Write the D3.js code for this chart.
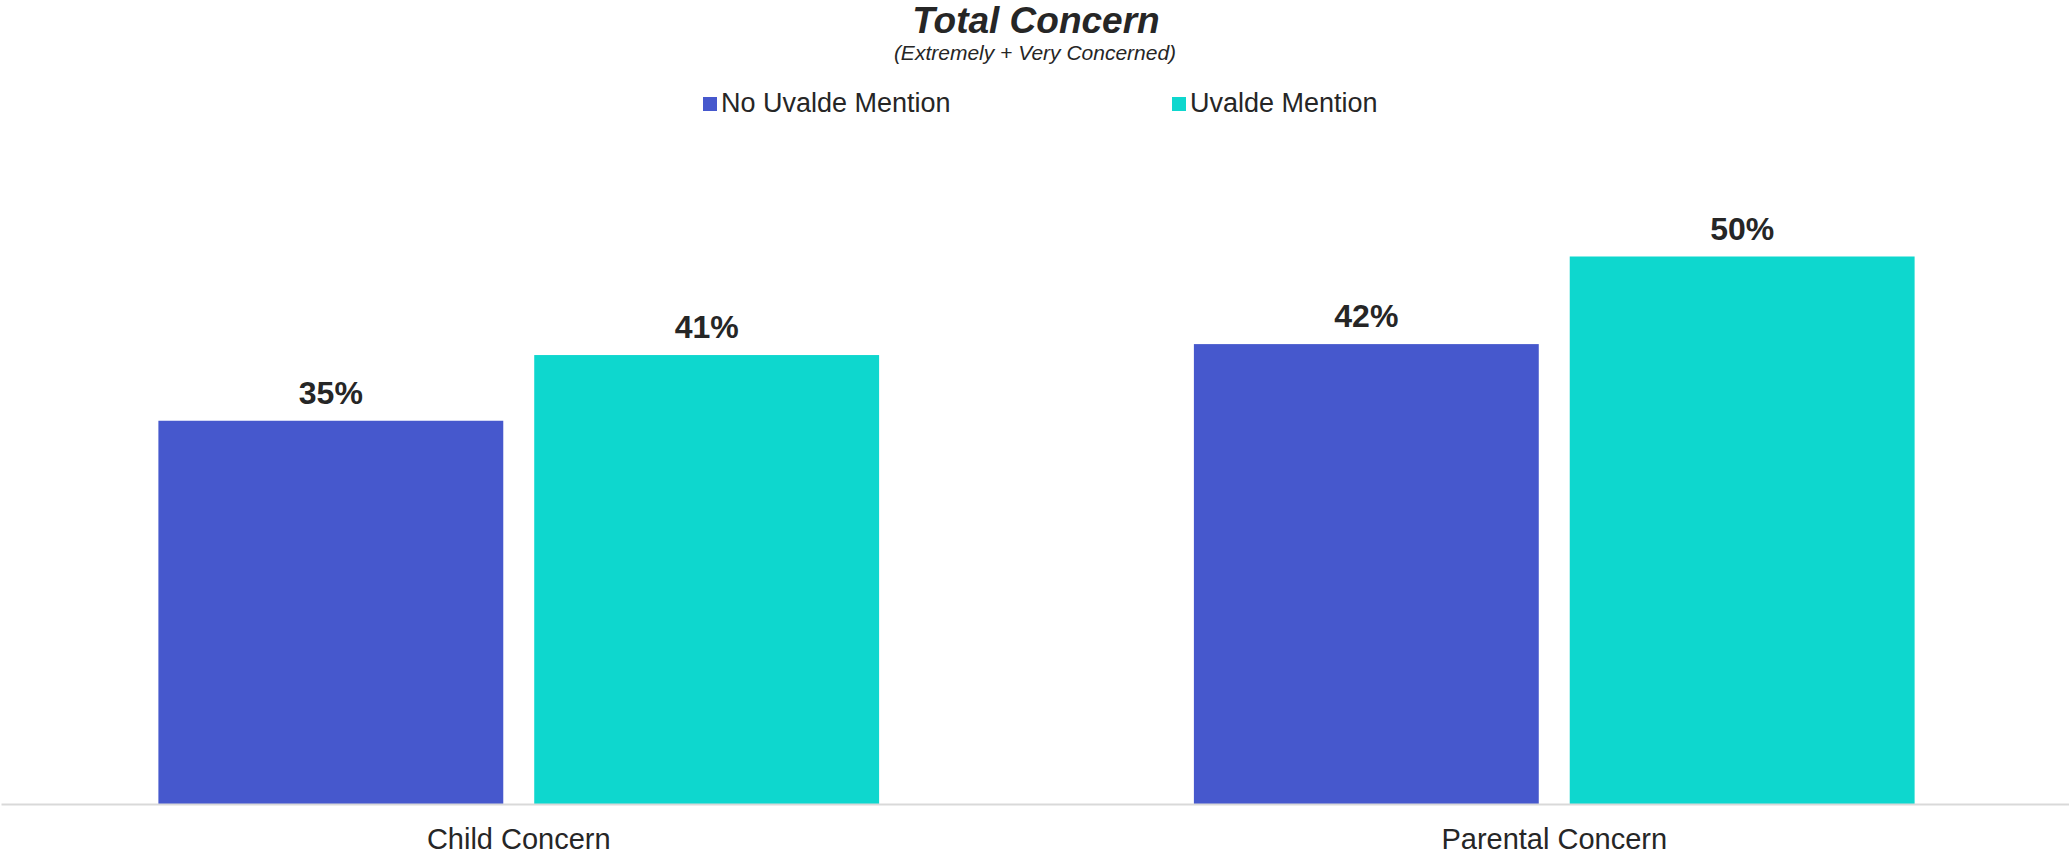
<!DOCTYPE html>
<html>
<head>
<meta charset="utf-8">
<script src="https://cdn.jsdelivr.net/npm/d3@7"></script>
<style>
  html, body { margin: 0; padding: 0; background: #ffffff; }
  svg { display: block; }
  text { font-family: "Liberation Sans", Arial, Helvetica, sans-serif; }
</style>
</head>
<body>
<svg id="chart" width="2069" height="855"></svg>
<script>
// ---- data ----
const categories = ["Child Concern", "Parental Concern"];
const seriesNames = ["No Uvalde Mention", "Uvalde Mention"];
const noUvalde = [0.35, 0.42];
const uvalde = [0.41, 0.50];
const seriesColors = ["#4658CD", "#0ED7CE"];
const titleText = "Total Concern";
const subtitleText = "(Extremely + Very Concerned)";

const rows = categories.map((c, i) => ({
  category: c,
  values: [
    { series: seriesNames[0], value: noUvalde[i] },
    { series: seriesNames[1], value: uvalde[i] }
  ]
}));

const W = 2069, H = 855;
const svg = d3.select("#chart");
const baseY = 804, topY = 147;

const x0 = d3.scaleBand().domain(categories).range([1, 2072])
  .paddingInner(0.304).paddingOuter(0.152);
const x1 = d3.scaleBand().domain(seriesNames).range([0, x0.bandwidth()])
  .paddingInner(0.0824).paddingOuter(0);
const y = d3.scaleLinear().domain([0, 0.6]).range([baseY, topY]);
const color = d3.scaleOrdinal().domain(seriesNames).range(seriesColors);
const fmt = d3.format(".0%");

// bars
const groups = svg.append("g").selectAll("g").data(rows).join("g")
  .attr("transform", d => `translate(${x0(d.category)},0)`);
groups.selectAll("rect").data(d => d.values).join("rect")
  .attr("x", d => x1(d.series))
  .attr("y", d => y(d.value))
  .attr("width", x1.bandwidth())
  .attr("height", d => baseY - y(d.value))
  .attr("fill", d => color(d.series));
groups.selectAll("text.lbl").data(d => d.values).join("text")
  .attr("class", "lbl")
  .attr("x", d => x1(d.series) + x1.bandwidth() / 2)
  .attr("y", d => y(d.value) - 17)
  .attr("text-anchor", "middle")
  .attr("font-size", 32)
  .attr("font-weight", "bold")
  .attr("fill", "#262626")
  .text(d => fmt(d.value));

// x axis
const xAxis = svg.append("g").attr("transform", `translate(0,${baseY})`)
  .call(d3.axisBottom(x0).tickSize(0).tickPadding(24));
xAxis.select(".domain").attr("stroke", "#D9D9D9").attr("stroke-width", 2);
xAxis.selectAll("text")
  .attr("font-size", 29)
  .attr("fill", "#262626")
  .style("font-family", "'Liberation Sans', Arial, sans-serif");

// title
svg.append("text").attr("x", 1036).attr("y", 33)
  .attr("text-anchor", "middle").attr("font-size", 37)
  .attr("font-weight", "bold").attr("font-style", "italic")
  .attr("fill", "#262626").text(titleText);
svg.append("text").attr("x", 1035).attr("y", 60)
  .attr("text-anchor", "middle").attr("font-size", 21)
  .attr("font-style", "italic")
  .attr("fill", "#262626").text(subtitleText);

// legend
const legendX = [703, 1172];
const leg = svg.append("g").selectAll("g").data(seriesNames).join("g")
  .attr("transform", (d, i) => `translate(${legendX[i]},97)`);
leg.append("rect").attr("width", 14).attr("height", 14)
  .attr("fill", d => color(d));
leg.append("text").attr("x", 18).attr("y", 15)
  .attr("font-size", 27).attr("fill", "#262626").text(d => d);
</script>
</body>
</html>
